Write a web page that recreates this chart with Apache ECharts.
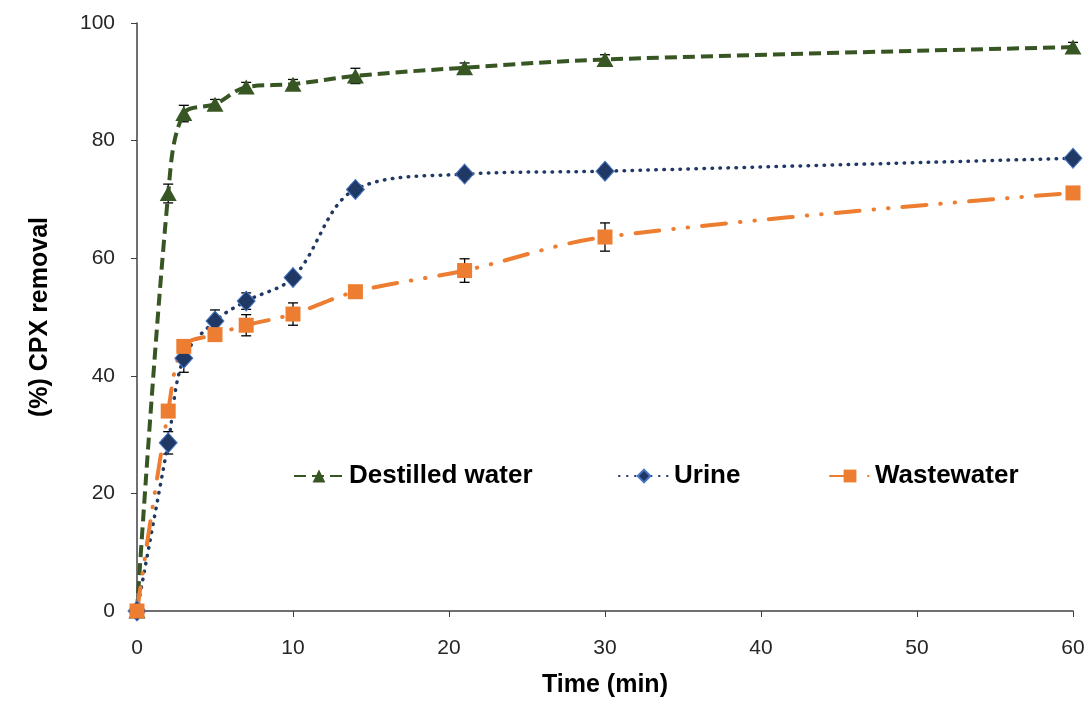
<!DOCTYPE html>
<html>
<head>
<meta charset="utf-8">
<script src="https://cdn.jsdelivr.net/npm/echarts@6/dist/echarts.min.js"></script>
<style>
  html, body { margin: 0; padding: 0; background: #fff; }
  #chart { width: 1088px; height: 701px; }
</style>
</head>
<body>
<div id="chart"></div>
<script>
// time points (min)
var times = [0, 2, 3, 5, 7, 10, 14, 21, 30, 60];

// % CPX removal
var destilled = [0, 71.0, 84.6, 86.2, 89.1, 89.6, 91.0, 92.4, 93.8, 95.9];
var urine = [0, 28.6, 43.0, 49.3, 52.7, 56.7, 71.7, 74.3, 74.8, 77.0];
var wastewater = [0, 34.0, 45.0, 47.0, 48.6, 50.5, 54.3, 57.9, 63.6, 71.1];

// standard deviations (error bars)
var errDestilled = [0, 1.6, 1.4, 0.8, 0.8, 0.8, 1.3, 0.8, 0.8, 0.8];
var errUrine = [0, 1.9, 2.4, 1.9, 1.4, 0.8, 0.8, 0.8, 0.8, 0.8];
var errWastewater = [0, 0.8, 0.8, 0.8, 1.8, 1.9, 0.8, 2.0, 2.4, 0.8];

var seriesNames = ['Destilled water', 'Urine', 'Wastewater'];
var colors = ['#375623', '#1f3864', '#ed7d31'];

function pairs(ys) {
    var out = [];
    for (var i = 0; i < times.length; i++) {
        out.push([times[i], ys[i]]);
    }
    return out;
}

function errData(ys, errs) {
    var out = [];
    for (var i = 0; i < times.length; i++) {
        out.push([times[i], ys[i] - errs[i], ys[i] + errs[i]]);
    }
    return out;
}

// error bar drawn with a custom series
function errorBar(data) {
    return {
        type: 'custom',
        z: 1,
        silent: true,
        data: data,
        renderItem: function (params, api) {
            var x = api.value(0);
            var lo = api.coord([x, api.value(1)]);
            var hi = api.coord([x, api.value(2)]);
            var w = 5;
            var style = { stroke: '#000', lineWidth: 1.3 };
            return {
                type: 'group',
                children: [
                    { type: 'line', shape: { x1: lo[0], y1: lo[1], x2: hi[0], y2: hi[1] }, style: style },
                    { type: 'line', shape: { x1: lo[0] - w, y1: lo[1], x2: lo[0] + w, y2: lo[1] }, style: style },
                    { type: 'line', shape: { x1: hi[0] - w, y1: hi[1], x2: hi[0] + w, y2: hi[1] }, style: style }
                ]
            };
        }
    };
}

var myChart = echarts.init(document.getElementById('chart'));

var legendText = {
    fontFamily: 'Liberation Sans',
    fontWeight: 'bold',
    fontSize: 26,
    color: '#000'
};

var option = {
    animation: false,
    grid: { left: 137, right: 15, top: 23, bottom: 90, outerBoundsMode: 'none', containLabel: false },
    legend: [
        { data: [seriesNames[0]], left: 288, top: 458, itemWidth: 50, itemHeight: 16, itemGap: 0, textStyle: legendText },
        { data: [seriesNames[1]], left: 613, top: 458, itemWidth: 50, itemHeight: 16, itemGap: 0, textStyle: legendText },
        { data: [seriesNames[2]], left: 824, top: 458, itemWidth: 40, itemHeight: 16, itemGap: 0, textStyle: legendText }
    ],
    xAxis: {
        type: 'value',
        min: 0,
        max: 60,
        interval: 10,
        name: 'Time (min)',
        nameLocation: 'middle',
        nameGap: 62,
        nameTextStyle: { fontFamily: 'Liberation Sans', fontWeight: 'bold', fontSize: 25, color: '#000' },
        axisLine: { lineStyle: { color: '#404040', width: 1.5 } },
        axisTick: { show: true, length: 6, lineStyle: { color: '#404040' } },
        axisLabel: { fontFamily: 'Liberation Sans', fontSize: 21, color: '#262626', margin: 27 },
        splitLine: { show: false }
    },
    yAxis: {
        type: 'value',
        min: 0,
        max: 100,
        interval: 20,
        name: '(%) CPX removal',
        nameLocation: 'middle',
        nameRotate: 90,
        nameGap: 84,
        nameTextStyle: { fontFamily: 'Liberation Sans', fontWeight: 'bold', fontSize: 25, color: '#000' },
        axisLine: { show: true, lineStyle: { color: '#404040', width: 1.5 } },
        axisTick: { show: true, length: 6, lineStyle: { color: '#404040' } },
        axisLabel: { fontFamily: 'Liberation Sans', fontSize: 21, color: '#262626', margin: 22 },
        splitLine: { show: false }
    },
    series: [
        errorBar(errData(destilled, errDestilled)),
        errorBar(errData(urine, errUrine)),
        errorBar(errData(wastewater, errWastewater)),
        {
            name: seriesNames[0],
            type: 'line',
            z: 3,
            data: pairs(destilled),
            smooth: 0.35,
            symbol: 'triangle',
            symbolSize: [17, 15],
            itemStyle: { color: colors[0] },
            lineStyle: { color: colors[0], width: 4, type: [12, 6] }
        },
        {
            name: seriesNames[1],
            type: 'line',
            z: 3,
            data: pairs(urine),
            smooth: 0.35,
            symbol: 'diamond',
            symbolSize: [18, 20],
            itemStyle: { color: colors[1], borderColor: '#4a78c8', borderWidth: 1 },
            lineStyle: { color: colors[1], width: 3.5, type: [0.5, 7.5], cap: 'round' }
        },
        {
            name: seriesNames[2],
            type: 'line',
            z: 3,
            data: pairs(wastewater),
            smooth: 0.35,
            symbol: 'rect',
            symbolSize: 15,
            itemStyle: { color: colors[2] },
            lineStyle: { color: colors[2], width: 4, type: [24, 14, 0.5, 14, 0.5, 14], cap: 'round' }
        }
    ]
};

myChart.setOption(option);
</script>
</body>
</html>
